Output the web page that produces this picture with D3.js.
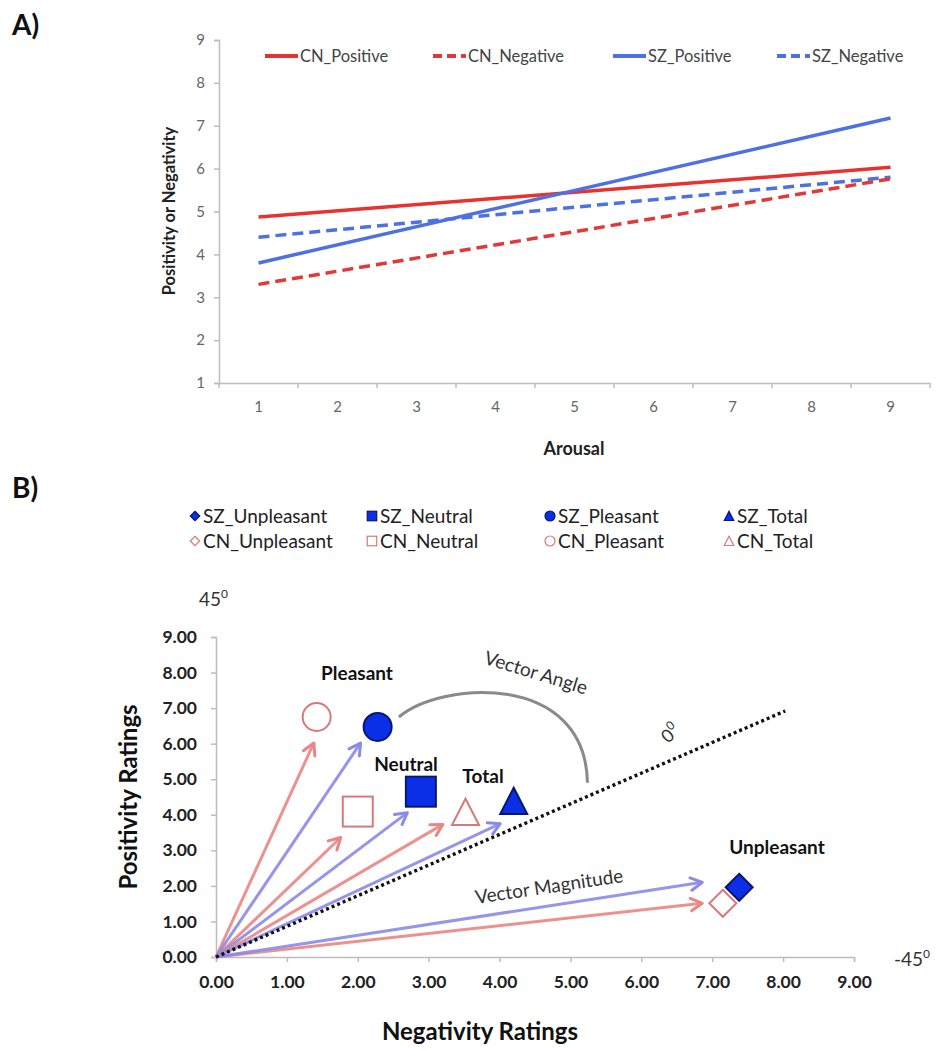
<!DOCTYPE html>
<html><head><meta charset="utf-8">
<script src="https://cdn.jsdelivr.net/npm/d3@7"></script>
<style>
body{margin:0;background:#fff}
svg{display:block;font-family:Lato,'Open Sans',sans-serif}
</style>
</head><body>
<svg id="c" width="946" height="1050"></svg>
<script>
// ---------- Panel A data ----------
const arousalTicks = ["1","2","3","4","5","6","7","8","9"];
const ratingTicksA = [1,2,3,4,5,6,7,8,9];
const lineCats = ["1","9"];               // regression lines: start and end category
const seriesNamesA = ["CN_Positive","CN_Negative","SZ_Positive","SZ_Negative"];
const cnPositive = [4.87, 6.03];
const cnNegative = [3.30, 5.76];
const szPositive = [3.80, 7.18];
const szNegative = [4.40, 5.80];

// ---------- Panel B data ----------
const groups = ["Unpleasant","Neutral","Pleasant","Total"];
const szNegativity = [7.38, 2.89, 2.28, 4.20];
const szPositivity = [1.96, 4.65, 6.47, 4.38];
const cnNegativity = [7.15, 2.00, 1.42, 3.52];
const cnPositivity = [1.51, 4.09, 6.75, 4.07];
// arrow tips (drawn from origin toward each point)
const szArrowNeg = [6.86, 2.70, 2.04, 4.01];
const szArrowPos = [2.10, 4.06, 6.02, 3.75];
const cnArrowNeg = [6.86, 1.76, 1.38, 3.20];
const cnArrowPos = [1.51, 3.36, 6.02, 3.73];
const zeroLineEnd = [8.03, 6.92];
const ratingTicksB = [0,1,2,3,4,5,6,7,8,9];
const legendNamesB = ["SZ_Unpleasant","SZ_Neutral","SZ_Pleasant","SZ_Total",
                      "CN_Unpleasant","CN_Neutral","CN_Pleasant","CN_Total"];

const svg = d3.select("#c");
const AX = "#bdbdbd";

// ================= PANEL A =================
svg.append("text").attr("x",12).attr("y",35).attr("font-size",28).attr("font-weight",700).attr("fill","#111").text("A)");

const band = d3.scaleBand().domain(arousalTicks).range([219,930]);
const xA = d3.scalePoint().domain(arousalTicks).range([219,930]).padding(0.5);
const yA = d3.scaleLinear().domain([1,9]).range([383,40]);

const gyA = svg.append("g").attr("transform","translate(219,0)")
  .call(d3.axisLeft(yA).tickValues(ratingTicksA).tickSize(5).tickPadding(9));
gyA.selectAll("path,line").attr("stroke",AX).attr("stroke-width",1.5);
gyA.selectAll("text").attr("font-size",15).attr("fill","#666").attr("font-family","Lato");

const gxA = svg.append("g").attr("transform","translate(0,383)")
  .call(d3.axisBottom(band).tickSize(0).tickPadding(18));
gxA.selectAll("path").attr("stroke",AX).attr("stroke-width",1.5);
gxA.selectAll("text").attr("font-size",15).attr("fill","#666").attr("font-family","Lato");
gxA.selectAll(".bnd").data(arousalTicks.concat(["end"])).enter().append("line")
  .attr("x1",d=>d==="end"?930:band(d)).attr("x2",d=>d==="end"?930:band(d))
  .attr("y1",0).attr("y2",5).attr("stroke",AX).attr("stroke-width",1.5);

svg.append("text").attr("transform","translate(175,211) rotate(-90)").attr("text-anchor","middle")
  .attr("font-size",16.5).attr("font-weight",700).attr("fill","#222").text("Positivity or Negativity");
svg.append("text").attr("x",574).attr("y",455).attr("text-anchor","middle")
  .attr("font-size",18).attr("font-weight",700).attr("fill","#222").text("Arousal");

const stylesA = [
  {color:"#e8322f", dash:null},
  {color:"#e0393a", dash:"11,6"},
  {color:"#4f70e0", dash:null},
  {color:"#4f70e0", dash:"11,6"}
];
const valsA = [cnPositive, cnNegative, szPositive, szNegative];
const lineA = d3.line().x(d=>xA(d[0])).y(d=>yA(d[1]));
const drawOrder = [3,1,0,2];
drawOrder.forEach(i=>{
  const pts = lineCats.map((c,k)=>[c, valsA[i][k]]);
  svg.append("path").attr("d",lineA(pts)).attr("fill","none")
    .attr("stroke",stylesA[i].color).attr("stroke-width",3.5)
    .attr("stroke-dasharray",stylesA[i].dash);
});

// legend A
const legAx = [265, 433, 613, 777];
seriesNamesA.forEach((n,i)=>{
  svg.append("line").attr("x1",legAx[i]).attr("x2",legAx[i]+33).attr("y1",56).attr("y2",56)
    .attr("stroke",stylesA[i].color).attr("stroke-width",4)
    .attr("stroke-dasharray",stylesA[i].dash?"9,5":null);
  svg.append("text").attr("x",legAx[i]+35).attr("y",62).attr("font-size",16.5).attr("fill","#444").text(n);
});

// ================= PANEL B =================
svg.append("text").attr("x",12).attr("y",498).attr("font-size",28).attr("font-weight",700).attr("fill","#111").text("B)");

const xB = d3.scaleLinear().domain([0,9]).range([216,854]);
const yB = d3.scaleLinear().domain([0,9]).range([957,637]);

const SZ = {fill:"#0b2fe6", stroke:"#0a1770"};
const CN = {fill:"#ffffff", stroke:"#d9787a"};

function marker(g, shape, cx, cy, s, st, sw){
  let el;
  if(shape==="circle"){
    el = g.append("circle").attr("cx",cx).attr("cy",cy).attr("r",s/2);
  } else if(shape==="square"){
    el = g.append("rect").attr("x",cx-s/2).attr("y",cy-s/2).attr("width",s).attr("height",s);
  } else if(shape==="diamond"){
    const h=s/2;
    el = g.append("path").attr("d",`M${cx},${cy-h}L${cx+h},${cy}L${cx},${cy+h}L${cx-h},${cy}Z`);
  } else {
    const h=s/2;
    el = g.append("path").attr("d",`M${cx},${cy-h}L${cx+h},${cy+h*0.95}L${cx-h},${cy+h*0.95}Z`);
  }
  el.attr("fill",st.fill).attr("stroke",st.stroke).attr("stroke-width",sw);
}
const shapes = {Unpleasant:"diamond", Neutral:"square", Pleasant:"circle", Total:"triangle"};

// legend B
const legBx = [195, 372, 550, 729];
const legBy = [523, 548];
legendNamesB.forEach((n,i)=>{
  const col=i%4, row=Math.floor(i/4);
  const grp = groups[col];
  marker(svg, shapes[grp], legBx[col], legBy[row]-7, grp==="Pleasant"?10:9.5, row===0?SZ:CN, 1.2);
  svg.append("text").attr("x",legBx[col]+8).attr("y",legBy[row]).attr("font-size",19).attr("fill","#222").text(n);
});

// degree labels
function degLabel(x,y,txt,rot){
  const t = svg.append("text").attr("transform",`translate(${x},${y}) rotate(${rot})`)
    .attr("font-size",19).attr("fill","#333");
  t.append("tspan").text(txt);
  t.append("tspan").attr("dy",-8).attr("font-size",12).text("0");
  return t;
}
degLabel(199,606,"45",0);
degLabel(894,966,"-45",0);

// axes B
const gyB = svg.append("g").attr("transform",`translate(${xB(0)},0)`)
  .call(d3.axisLeft(yB).tickValues(ratingTicksB).tickSize(5).tickPadding(14).tickFormat(d3.format(".2f")));
gyB.selectAll("path,line").attr("stroke",AX).attr("stroke-width",1.5);
gyB.selectAll("text").attr("font-size",17.5).attr("font-weight",700).attr("fill","#222").attr("font-family","Lato");

const gxB = svg.append("g").attr("transform",`translate(0,${yB(0)})`)
  .call(d3.axisBottom(xB).tickValues(ratingTicksB).tickSize(5).tickPadding(14).tickFormat(d3.format(".2f")));
gxB.selectAll("path,line").attr("stroke",AX).attr("stroke-width",1.5);
gxB.selectAll("text").attr("font-size",17.5).attr("font-weight",700).attr("fill","#222").attr("font-family","Lato");

svg.append("text").attr("transform","translate(137,797) rotate(-90)").attr("text-anchor","middle")
  .attr("font-size",24).attr("font-weight",700).attr("fill","#111").text("Positivity Ratings");
svg.append("text").attr("x",480).attr("y",1040).attr("text-anchor","middle")
  .attr("font-size",24).attr("font-weight",700).attr("fill","#111").text("Negativity Ratings");

// arrow heads
const defs = svg.append("defs");
function head(id,color){
  defs.append("marker").attr("id",id).attr("viewBox","0 0 14 14").attr("refX",12).attr("refY",7)
    .attr("markerWidth",16).attr("markerHeight",16).attr("markerUnits","userSpaceOnUse").attr("orient","auto")
    .append("path").attr("d","M2,1.5L12,7L2,12.5").attr("fill","none").attr("stroke",color)
    .attr("stroke-width",2.6).attr("stroke-linecap","round").attr("stroke-linejoin","round");
}
const redA = "#e98584", blueA = "#8a8ae8";
head("hr",redA); head("hb",blueA);

groups.forEach((g,i)=>{
  svg.append("line").attr("x1",xB(0)).attr("y1",yB(0)).attr("x2",xB(cnArrowNeg[i])).attr("y2",yB(cnArrowPos[i]))
    .attr("stroke",redA).attr("stroke-width",3).attr("stroke-opacity",0.9).attr("marker-end","url(#hr)");
  svg.append("line").attr("x1",xB(0)).attr("y1",yB(0)).attr("x2",xB(szArrowNeg[i])).attr("y2",yB(szArrowPos[i]))
    .attr("stroke",blueA).attr("stroke-width",3).attr("stroke-opacity",0.9).attr("marker-end","url(#hb)");
});

// 0 degree dotted line
svg.append("line").attr("x1",xB(0)).attr("y1",yB(0)).attr("x2",xB(zeroLineEnd[0])).attr("y2",yB(zeroLineEnd[1]))
  .attr("stroke","#111").attr("stroke-width",3.4).attr("stroke-dasharray","3,3");
degLabel(668,744,"0",-42).attr("font-size",18);

// vector angle arc (data coords)
const arcPts = [[2.58,6.75],[3.17,7.76],[5.21,8.04],[5.24,4.90]];
const p = d3.path();
p.moveTo(xB(arcPts[0][0]),yB(arcPts[0][1]));
p.bezierCurveTo(xB(arcPts[1][0]),yB(arcPts[1][1]),xB(arcPts[2][0]),yB(arcPts[2][1]),xB(arcPts[3][0]),yB(arcPts[3][1]));
svg.append("path").attr("d",p.toString()).attr("fill","none").attr("stroke","#8a8a8a").attr("stroke-width",3);

svg.append("text").attr("transform","translate(534,679) rotate(17)").attr("text-anchor","middle")
  .attr("font-size",19).attr("fill","#333").text("Vector Angle");
svg.append("text").attr("transform","translate(550,893) rotate(-8.5)").attr("text-anchor","middle")
  .attr("font-size",19).attr("fill","#333").text("Vector Magnitude");

// data points
const sizes = {Unpleasant:27, Neutral:30, Pleasant:28, Total:27};
groups.forEach((g,i)=>{
  marker(svg, shapes[g], xB(cnNegativity[i]), yB(cnPositivity[i]), sizes[g], CN, 2);
});
groups.forEach((g,i)=>{
  marker(svg, shapes[g], xB(szNegativity[i]), yB(szPositivity[i]), sizes[g], SZ, 2);
});

// group labels
const grpLabelPos = {Pleasant:[357,680], Neutral:[406,771], Total:[483,783], Unpleasant:[777,854]};
groups.forEach(g=>{
  svg.append("text").attr("x",grpLabelPos[g][0]).attr("y",grpLabelPos[g][1]).attr("text-anchor","middle")
    .attr("font-size",19).attr("font-weight",700).attr("fill","#111").text(g);
});
</script>
</body></html>
